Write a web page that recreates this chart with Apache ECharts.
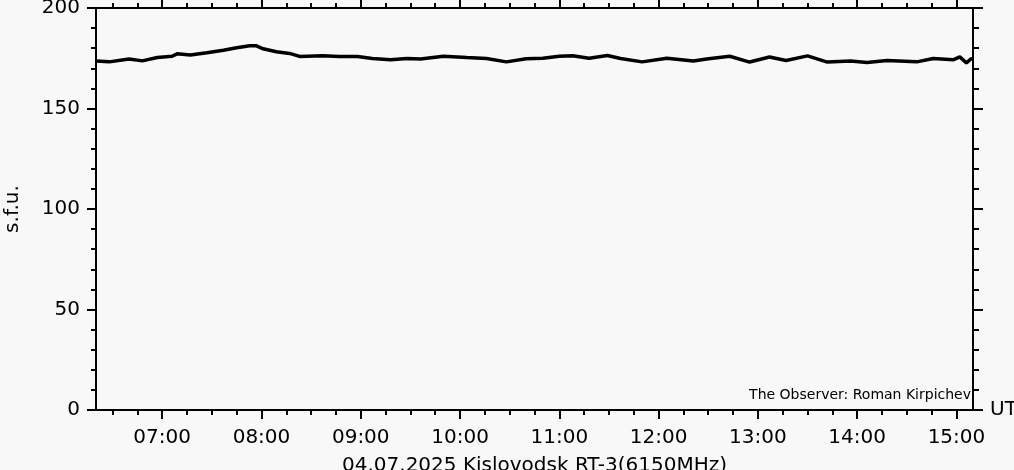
<!DOCTYPE html>
<html>
<head>
<meta charset="utf-8">
<script src="https://cdn.jsdelivr.net/npm/echarts@6/dist/echarts.min.js"></script>
<style>
html,body{margin:0;padding:0;background:#f8f8f8;}
#chart{width:1014px;height:470px;}
</style>
</head>
<body>
<div id="chart"></div>
<script>
// ---- data ----
const times = ['06:20','06:28','06:40','06:48','06:57','07:06','07:09','07:17','07:27','07:37','07:45','07:53','07:57','08:01','08:09','08:17','08:23','08:37','08:47','08:58','09:07','09:18','09:28','09:36','09:50','10:04','10:16','10:28','10:40','10:50','11:00','11:08','11:18','11:29','11:37','11:50','12:05','12:21','12:29','12:43','12:55','13:07','13:17','13:30','13:42','13:56','14:06','14:18','14:36','14:46','14:58','15:02','15:06','15:09','15:10'];
const flux  = [173.6,173.2,174.6,173.7,175.4,176.0,177.2,176.6,177.7,179.0,180.2,181.2,181.2,179.7,178.2,177.4,175.9,176.2,175.9,175.9,174.9,174.2,174.9,174.6,176.0,175.4,174.9,173.2,174.7,175.0,176.0,176.2,175.0,176.4,174.9,173.2,175.0,173.6,174.6,176.0,173.1,175.6,173.9,176.2,173.1,173.6,172.9,173.9,173.2,174.9,174.2,175.7,172.7,174.9,174.5];
const hourLabels = ['07:00','08:00','09:00','10:00','11:00','12:00','13:00','14:00','15:00'];
const yLabels = [0,50,100,150,200];
const xStart = '06:20', xEnd = '15:10';
const xTitle = '04.07.2025 Kislovodsk RT-3(6150MHz)';
const yTitle = 's.f.u.';
const observer = 'The Observer: Roman Kirpichev';

// ---- helpers ----
const toMin = s => { const p = s.split(':'); return (+p[0]) * 60 + (+p[1]); };
const pad = n => (n < 10 ? '0' : '') + n;
const fmtTime = v => pad(Math.floor(v / 60)) + ':' + pad(Math.round(v % 60));
const xMin = toMin(xStart), xMax = toMin(xEnd);
const hourVals = hourLabels.map(toMin);
const quarterVals = [];
for (let m = Math.ceil(xMin / 15) * 15; m <= xMax; m += 15) quarterVals.push(m);
const yMinor = [];
for (let v = 0; v <= 200; v += 10) yMinor.push(v);
const seriesData = times.map((t, i) => [toMin(t), flux[i]]);

const FONT = 'DejaVu Sans';
const black = '#000';
const lineStyle = {color: black, width: 2};

function xAx(pos, ticks, len, showLine, extra) {
  return Object.assign({
    type: 'value', position: pos, min: xMin, max: xMax,
    axisLine: {show: showLine, onZero: false, lineStyle},
    axisTick: {show: true, customValues: ticks, length: len, lineStyle},
    axisLabel: {show: false},
    splitLine: {show: false}
  }, extra || {});
}
function yAx(pos, ticks, len, showLine, extra) {
  return Object.assign({
    type: 'value', position: pos, min: 0, max: 200,
    axisLine: {show: showLine, onZero: false, lineStyle},
    axisTick: {show: true, customValues: ticks, length: len, lineStyle},
    axisLabel: {show: false},
    splitLine: {show: false}
  }, extra || {});
}

const chart = echarts.init(document.getElementById('chart'));
chart.setOption({
  animation: false,
  backgroundColor: '#f8f8f8',
  grid: {left: 96, right: 41, top: 8, bottom: 60, containLabel: false, outerBoundsMode: 'none'},
  xAxis: [
    xAx('bottom', quarterVals, 5, true, {
      axisLabel: {show: true, customValues: hourVals, formatter: v => fmtTime(v), color: black, fontSize: 20, fontFamily: FONT, margin: 18},
      name: xTitle, nameLocation: 'middle', nameGap: 46,
      nameTextStyle: {color: black, fontSize: 20, fontFamily: FONT}
    }),
    xAx('bottom', hourVals, 9, false, {
      name: 'UT', nameLocation: 'end', nameGap: 17,
      nameTextStyle: {color: black, fontSize: 20, fontFamily: FONT, verticalAlign: 'middle'}
    }),
    xAx('top', quarterVals, 5, true),
    xAx('top', hourVals, 9, false)
  ],
  yAxis: [
    yAx('left', yMinor, 5, true, {
      axisLabel: {show: true, customValues: yLabels, color: black, fontSize: 20, fontFamily: FONT, margin: 16},
      name: yTitle, nameLocation: 'middle', nameGap: 73, nameRotate: 90,
      nameTextStyle: {color: black, fontSize: 20, fontFamily: FONT}
    }),
    yAx('left', yLabels, 9, false),
    yAx('right', yMinor, 6, true),
    yAx('right', yLabels, 10, false)
  ],
  graphic: [{
    type: 'text', right: 43, top: 388,
    style: {text: observer, font: '14px "DejaVu Sans"', fill: black}
  }],
  series: [{
    type: 'line', xAxisIndex: 0, yAxisIndex: 0,
    data: seriesData, showSymbol: false, symbol: 'none',
    lineStyle: {color: black, width: 3.5}
  }]
});
</script>
</body>
</html>
